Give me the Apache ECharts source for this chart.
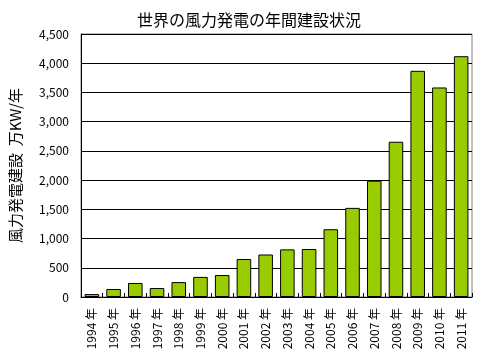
<!DOCTYPE html>
<html><head><meta charset="utf-8">
<script src="https://cdn.jsdelivr.net/npm/echarts@6/dist/echarts.min.js"></script>
<style>html,body{margin:0;padding:0;background:#fff}#c{width:477px;height:358px}</style>
</head><body><div id="c"></div>
<script>
const titleText = '世界の風力発電の年間建設状況';
const yAxisName = '風力発電建設  万KW/年';
const categories = ['1994 年','1995 年','1996 年','1997 年','1998 年','1999 年','2000 年','2001 年','2002 年','2003 年','2004 年','2005 年','2006 年','2007 年','2008 年','2009 年','2010 年','2011 年'];
const values = [50, 137, 240, 153, 255, 344, 376, 650, 727, 815, 821, 1160, 1525, 1990, 2656, 3870, 3585, 4120];

const font = '"Noto Sans CJK JP", sans-serif';
const chart = echarts.init(document.getElementById('c'));
chart.setOption({
  animation: false,
  backgroundColor: '#fff',
  title: { text: titleText, left: 244, top: 7, textAlign: 'center',
    textStyle: { fontFamily: font, fontSize: 16, fontWeight: 'normal', color: '#000' } },
  grid: { left: 81, right: 5, top: 34, bottom: 61, show: true, borderColor: '#808080', borderWidth: 1, backgroundColor: 'transparent' },
  xAxis: {
    type: 'category', data: categories,
    axisLine: { lineStyle: { color: '#000', width: 1 } },
    axisTick: { show: true, inside: true, length: 4, lineStyle: { color: '#000' } },
    axisLabel: { rotate: 90, fontFamily: font, fontSize: 12, color: '#000', margin: 11, interval: 0 }
  },
  yAxis: {
    type: 'value', min: 0, max: 4500, interval: 500,
    name: yAxisName, nameLocation: 'middle', nameGap: 58, nameRotate: 90,
    nameTextStyle: { fontFamily: font, fontSize: 15, color: '#000' },
    axisLine: { show: true, lineStyle: { color: '#000', width: 1 } },
    axisTick: { show: false },
    splitLine: { lineStyle: { color: '#000', width: 1 } },
    axisLabel: { fontFamily: font, fontSize: 12, color: '#000', margin: 12,
      formatter: v => v.toLocaleString('en-US') }
  },
  series: [{
    type: 'bar', data: values, barCategoryGap: '33%',
    itemStyle: { color: '#99CC00', borderColor: '#000', borderWidth: 1 }
  }]
});
</script></body></html>
